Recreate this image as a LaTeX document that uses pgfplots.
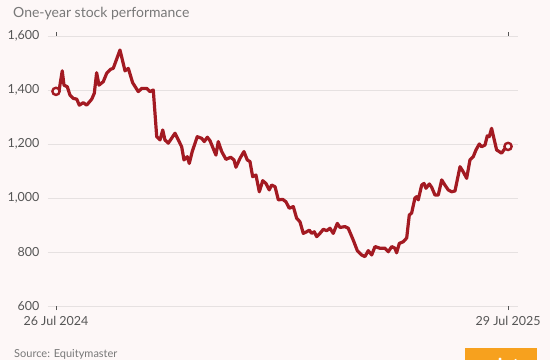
\documentclass[border=0pt]{standalone}
\usepackage{pgfplots}
\pgfplotsset{compat=1.18}
\usepackage{fontspec}
\setmainfont{Lato}
\definecolor{bg}{HTML}{FDF7F7}
\definecolor{line}{HTML}{A31A22}
\definecolor{txt}{HTML}{555555}
\definecolor{ttl}{HTML}{787878}
\definecolor{gridc}{HTML}{E6E1E1}
\definecolor{mintorange}{HTML}{F7A11E}
\begin{document}
\begin{tikzpicture}
\useasboundingbox (0pt,0pt) rectangle (550pt,360pt);
\clip (0pt,0pt) rectangle (550pt,360pt);
\fill[bg] (0pt,0pt) rectangle (550pt,360pt);
\node[anchor=base west, text=ttl, font=\fontsize{14}{16}\selectfont, inner sep=0pt] at (13pt,343pt) {One-year stock performance};
\node[anchor=base west, text=ttl, font=\fontsize{11}{13}\selectfont, inner sep=0pt] at (14pt,3pt) {Source: Equitymaster};
\fill[mintorange] (465pt,0pt) rectangle (537pt,12pt);
\node[anchor=base, text=white, font=\bfseries\fontsize{18}{20}\selectfont, inner sep=0pt] at (501pt,-11pt) {mint};
\begin{axis}[
  at={(48pt,54pt)}, anchor=south west,
  width=470pt, height=270pt, scale only axis,
  xmin=-6.5, xmax=376.1, ymin=600, ymax=1600,
  axis line style={draw=none},
  ytick={600,800,1000,1200,1400,1600},
  ymajorgrids, grid style={gridc, line width=0.8pt},
  major y tick style={draw=none},
  xtick={0,368}, xticklabels={26 Jul 2024, 29 Jul 2025},
  major x tick style={txt, line width=0.8pt},
  tick align=outside, major tick length=4pt,
  x tick label style={font=\fontsize{12.5}{14}\selectfont, text=txt, yshift=-3pt},
  y tick label style={font=\fontsize{12.5}{14}\selectfont, text=txt, xshift=-1pt},
  /pgf/number format/assume math mode=true,
  /pgf/number format/1000 sep={,},
  clip=false,
]
\addplot[line, line width=3.2pt, line join=round] coordinates {
(0,1395)(2.4,1395)(5.1,1471)(6.5,1418)(9.2,1412)(11.4,1381)(14.1,1369)(16.9,1366)(19.0,1344)(22.2,1353)(25.0,1344)(29.1,1366)(31.2,1388)(33.1,1464)(35.0,1418)(38.5,1431)(41.3,1462)(44.5,1477)(46.6,1480)(52.1,1548)(56.2,1471)(58.9,1480)(62.4,1427)(67.0,1394)(69.8,1406)(73.8,1406)(76.5,1394)(79.2,1400)(82.0,1227)(84.7,1215)(86.9,1252)(88.7,1215)(91.4,1203)(96.9,1240)(99.6,1215)(102.3,1190)(104.2,1141)(106.9,1153)(108.5,1128)(110.9,1172)(115.0,1227)(118.6,1221)(120.7,1209)(123.2,1225)(125.4,1212)(130.2,1159)(132.1,1209)(134.9,1172)(138.4,1143)(142.2,1151)(144.9,1141)(146.5,1114)(149.8,1147)(153.0,1172)(155.7,1141)(157.9,1135)(160.1,1079)(162.8,1085)(165.5,1023)(168.3,1064)(170.9,1054)(173.6,1030)(175.6,1048)(178.3,1042)(181.0,993)(184.5,995)(187.2,986)(189.9,962)(193.2,968)(195.9,925)(198.6,912)(201.3,869)(204.1,875)(206.2,881)(208.1,869)(210.3,875)(212.2,857)(214.9,869)(217.6,884)(220.4,879)(223.0,888)(225.7,869)(229.0,906)(231.2,891)(235.2,894)(237.9,888)(242.0,844)(245.3,805)(248.8,789)(251.5,783)(254.2,805)(257.0,789)(259.7,820)(263.7,814)(267.8,814)(270.5,801)(273.3,820)(275.9,814)(277.3,797)(279.5,832)(282.7,838)(285.5,852)(287.6,937)(289.5,944)(292.2,1000)(293.6,1005)(294.9,993)(297.7,1048)(299.6,1054)(301.2,1036)(303.9,1052)(305.8,1040)(308.5,1011)(311.2,1011)(314.0,1067)(316.6,1048)(319.3,1030)(322.1,1023)(324.8,1026)(328.9,1116)(331.5,1097)(334.3,1073)(337.0,1141)(339.7,1153)(341.9,1178)(344.6,1200)(346.5,1190)(349.2,1196)(351.1,1230)(352.7,1227)(354.6,1258)(356.5,1221)(358.7,1178)(362.8,1166)(365.5,1184)(368,1191)
};
\addplot[line, line width=2.4pt, only marks, mark=*, mark size=3.6pt, mark options={fill=bg, draw=line}] coordinates {(0,1395)(368,1191)};
\end{axis}
\end{tikzpicture}
\end{document}
